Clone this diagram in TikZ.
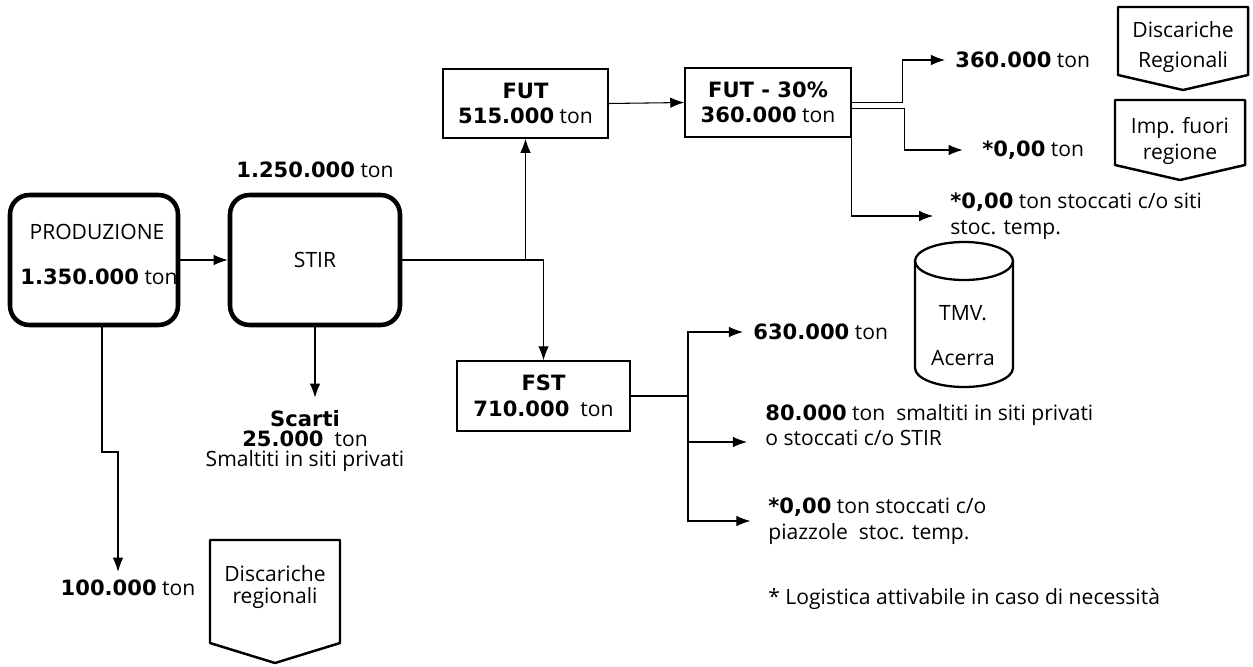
\documentclass[tikz,border=0pt]{standalone}
\usepackage{fontspec}
\setmainfont{Open Sans}
\newfontfamily\vb{DejaVu Sans}
\newcommand{\B}[1]{{\vb\bfseries #1}}
\usetikzlibrary{arrows.meta,calc}
\begin{document}
\begin{tikzpicture}[x=0.02cm,y=-0.02cm,
  font=\fontsize{12}{14.5}\selectfont,
  thickbox/.style={draw, line width=2.6pt, rounded corners=11pt, minimum height=2.6cm, inner sep=0pt},
  box/.style={draw, line width=0.8pt, align=center, inner sep=0pt, minimum height=1.38cm},
  conn/.style={line width=0.6pt},
  arr/.style={conn, -{Latex[length=8pt,width=6pt]}},
  lbl/.style={inner sep=0pt, anchor=west, align=left},
  txt/.style={inner sep=0pt, align=center},
  pent/.style={line width=1.4pt, line join=round},
  cyl/.style={line width=1.3pt}]
\useasboundingbox (0,0) rectangle (1253,666);

% PRODUZIONE
\node[txt] (prodname) at (97,232) {PRODUZIONE};
\node[lbl] (prodval) at (20,277) {\B{1.350.000} ton};
\node[thickbox, minimum width=3.36cm] (prod) at (94,260) {};

% STIR
\node[thickbox, minimum width=3.4cm] (stir) at (315,260) {STIR};
\node[txt] (stirval) at (315,170) {\B{1.250.000} ton};

% FUT / FUT-30% / FST
\node[box, minimum width=3.3cm] (fut) at (525.5,103.5) {\B{FUT}\\\B{515.000} ton};
\node[box, minimum width=3.32cm] (fut30) at (768,102.5) {\B{FUT - 30\%}\\\B{360.000} ton};
\node[box, minimum width=3.46cm, minimum height=1.4cm] (fst) at (543.5,396) {\B{FST}\\\B{710.000}\ \ ton};

% labels
\node[lbl] (l360) at (955,60) {\B{360.000} ton};
\node[lbl] (l000a) at (982,150) {\B{*0,00} ton};
\node[lbl] (lsiti) at (950,216) {\B{*0,00} ton stoccati c/o siti\\stoc. temp.};
\node[lbl] (l630) at (753,332) {\B{630.000} ton};
\node[lbl] (l80) at (765,425) {\B{80.000} ton\ \ smaltiti in siti privati\\o stoccati c/o STIR};
\node[lbl] (lpiaz) at (768,521) {\B{*0,00} ton stoccati c/o\\piazzole\ \ stoc. temp.};
\node[lbl] (lnote) at (768,599) {* Logistica attivabile in caso di necessità};
\node[txt] (l100) at (128,588) {\B{100.000} ton};
\node[txt, font=\fontsize{12}{11.5}\selectfont] (scarti) at (305,441) {\B{Scarti}\\\B{25.000}\ \ ton\\Smaltiti in siti privati};

% pentagons (off-page connectors)
\draw[pent] (1118,7) -- (1248,7) -- (1248,75) -- (1183,90) -- (1118,75) -- cycle;
\node[txt, font=\fontsize{12}{17}\selectfont] (dreg1) at (1183,47) {Discariche\\Regionali};
\draw[pent] (1115,100) -- (1245,100) -- (1245,165) -- (1180,180) -- (1115,165) -- cycle;
\node[txt, font=\fontsize{12}{15.3}\selectfont] (imp) at (1180,141) {Imp. fuori\\regione};
\draw[pent] (210,540) -- (340,540) -- (340,643) -- (275,663) -- (210,643) -- cycle;
\node[txt, font=\fontsize{12}{12.5}\selectfont] (dreg2) at (275,587) {Discariche\\regionali};

% cylinder TMV Acerra
\draw[cyl] (915,261) -- (915,368) arc[start angle=180, end angle=360, x radius=0.98cm, y radius=0.38cm] -- (1013,261);
\draw[cyl] (964,261) ellipse [x radius=0.98cm, y radius=0.38cm];
\node[txt] (tmv1) at (963,313) {TMV.};
\node[txt] (tmv2) at (963,358) {Acerra};

% connectors
\draw[arr] (prod.east) -- (stir.west);
\draw[arr] (stir.east) -| (fut.south);
\draw[arr] (stir.east) -| (fst.north);
\draw[arr] (fut.east) -- (fut30.west);
\draw[arr, shorten >=5.7pt] (fut30.east) -- ++(51,0) |- (l360.west);
\draw[arr, shorten >=11pt] ($(fut30.east)+(0,6)$) -- ++(53,0) |- (l000a.west);
\draw[arr, shorten >=9.6pt] (fut30.south east) |- (lsiti.west);

\coordinate (fstj) at (688,396);
\coordinate (c80) at (747,442);
\draw[arr, shorten >=5.7pt] (fst.east) -- (fstj) |- (l630.west);
\draw[arr] (fstj) |- (c80);
\draw[arr, shorten >=10pt] (fstj) |- (lpiaz.west);

\coordinate (pj) at (118,452);
\draw[arr, shorten >=4.5pt] ($(prod.south)+(8,0)$) |- (pj) -- (pj |- l100.north);
\draw[arr, shorten >=7pt] (stir.south) -- (stir.south |- scarti.north);
\end{tikzpicture}
\end{document}
